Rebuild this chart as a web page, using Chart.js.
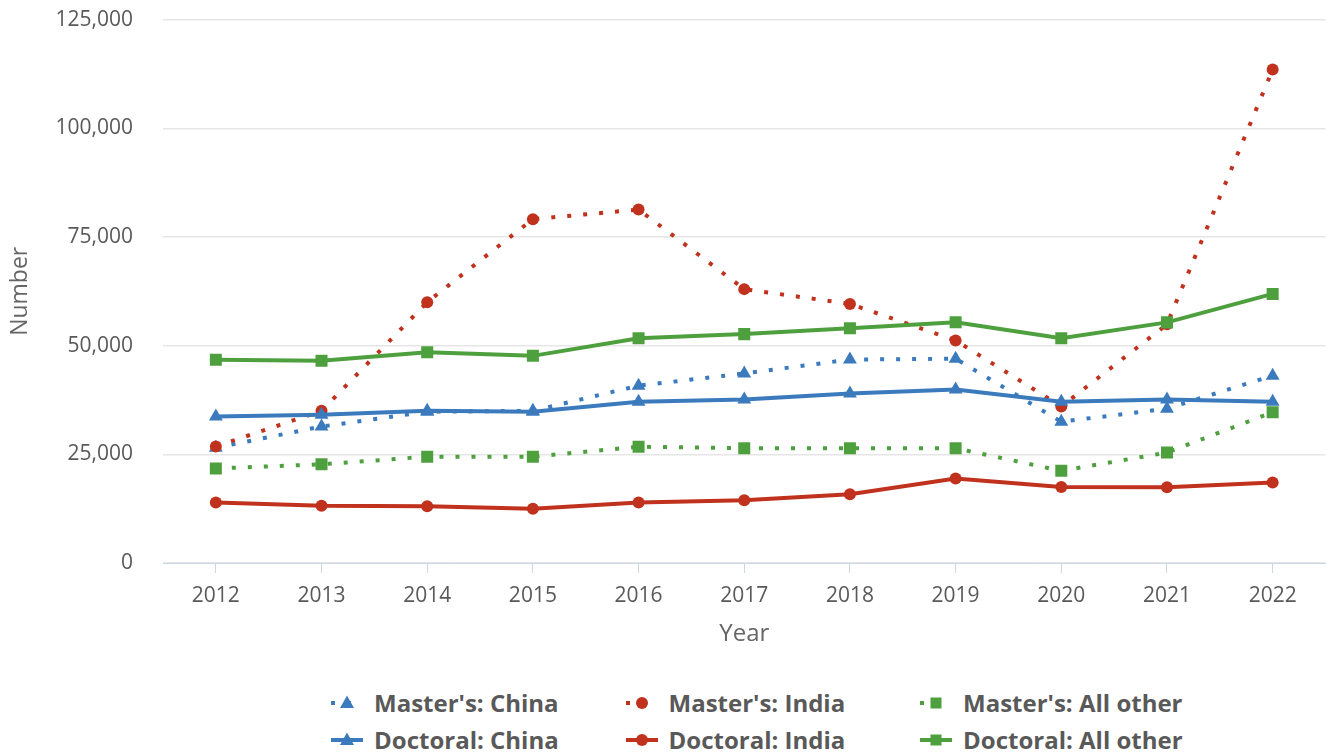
<!DOCTYPE html>
<html>
<head>
<meta charset="utf-8">
<script src="https://cdn.jsdelivr.net/npm/chart.js@4.4.1/dist/chart.umd.min.js"></script>
<style>
  html, body { margin: 0; padding: 0; background: #ffffff; }
  #wrap { position: relative; width: 1327px; height: 754px; overflow: hidden; }
  #chartBox { position: absolute; left: 0; top: -23px; width: 1334px; height: 676px; }
  #legend {
    position: absolute; left: 331px; top: 684px;
    display: grid; grid-template-columns: 294.5px 294.5px 294.5px; grid-auto-rows: 37px;
    font-family: "Open Sans", sans-serif; font-weight: bold; font-size: 24px; color: #595959;
  }
  .item { display: flex; align-items: center; white-space: nowrap; }
  .item svg { margin-right: 11px; flex: none; }
</style>
</head>
<body>
<div id="wrap">
  <div id="chartBox"><canvas id="c"></canvas></div>
  <div id="legend"></div>
</div>
<script>
const years = ["2012","2013","2014","2015","2016","2017","2018","2019","2020","2021","2022"];
const yTicks = [0, 25000, 50000, 75000, 100000, 125000];

const mastersChina    = [26500, 31400, 34800, 35000, 40800, 43600, 46800, 47000, 32500, 35500, 43100];
const mastersIndia    = [26800, 35000, 60000, 79100, 81300, 63000, 59600, 51200, 36000, 54900, 113500];
const mastersOther    = [21750, 22700, 24450, 24450, 26750, 26400, 26400, 26400, 21200, 25400, 34700];
const doctoralChina   = [33700, 34100, 35000, 34800, 37100, 37600, 39000, 39900, 37100, 37600, 37100];
const doctoralIndia   = [13900, 13150, 13070, 12500, 13900, 14450, 15800, 19450, 17500, 17400, 18500];
const doctoralOther   = [46750, 46500, 48500, 47650, 51700, 52650, 54000, 55400, 51700, 55350, 61900];

const seriesNames = ["Master's: China", "Master's: India", "Master's: All other",
                     "Doctoral: China", "Doctoral: India", "Doctoral: All other"];

const BLUE = '#3a7abd', RED = '#c0321d', GREEN = '#4ea03e';

function ds(label, data, color, style, radius, dotted, order) {
  return {
    label, data,
    borderColor: color, backgroundColor: color,
    pointBackgroundColor: color, pointBorderColor: color, pointBorderWidth: 0,
    pointStyle: style, pointRadius: radius, pointHoverRadius: radius,
    borderWidth: 4, borderDash: dotted ? [4, 12] : [], borderCapStyle: 'butt',
    tension: 0, fill: false, order
  };
}

const datasets = [
  ds(seriesNames[0], mastersChina, BLUE, 'triangle', 8, true, 6),
  ds(seriesNames[1], mastersIndia, RED, 'circle', 6, true, 5),
  ds(seriesNames[2], mastersOther, GREEN, 'rect', 8.5, true, 4),
  ds(seriesNames[3], doctoralChina, BLUE, 'triangle', 8, false, 3),
  ds(seriesNames[4], doctoralIndia, RED, 'circle', 6, false, 2),
  ds(seriesNames[5], doctoralOther, GREEN, 'rect', 8.5, false, 1)
];

new Chart(document.getElementById('c'), {
  type: 'line',
  data: { labels: years, datasets },
  options: {
    responsive: true, maintainAspectRatio: false, animation: false,
    layout: { padding: { top: 8, right: 0, left: 3, bottom: 0 } },
    plugins: { legend: { display: false }, tooltip: { enabled: false } },
    scales: {
      x: {
        offset: true,
        grid: { drawOnChartArea: false, drawTicks: true, tickLength: 10, color: '#ccd6eb', lineWidth: 1 },
        border: { display: true, color: '#ccd6eb', width: 1 },
        ticks: { color: '#595959', font: { family: 'Open Sans', size: 21 }, padding: 10, maxRotation: 0 },
        title: { display: true, text: 'Year', color: '#666666', font: { family: 'Open Sans', size: 24 }, padding: { top: 2 } }
      },
      y: {
        min: 0, max: 125000,
        afterBuildTicks: (axis) => { axis.ticks = yTicks.map(v => ({ value: v })); },
        afterFit: (scale) => { scale.width = 160; },
        grid: { drawTicks: false, color: '#e6e6e6', lineWidth: 1.5 },
        border: { display: false },
        ticks: { color: '#595959', font: { family: 'Open Sans', size: 21 }, padding: 30,
                 callback: (v) => v.toLocaleString('en-US') },
        title: { display: true, text: 'Number', color: '#666666', font: { family: 'Open Sans', size: 23 }, padding: { top: 4, bottom: 0 } }
      }
    }
  }
});

// HTML legend
const styles = [
  { color: BLUE, shape: 'tri', dotted: true }, { color: RED, shape: 'circle', dotted: true }, { color: GREEN, shape: 'rect', dotted: true },
  { color: BLUE, shape: 'tri', dotted: false }, { color: RED, shape: 'circle', dotted: false }, { color: GREEN, shape: 'rect', dotted: false }
];
const legend = document.getElementById('legend');
styles.forEach((s, i) => {
  const line = s.dotted
    ? `<line x1="0" y1="8" x2="32" y2="8" stroke="${s.color}" stroke-width="4" stroke-dasharray="4 12"/>`
    : `<line x1="0" y1="8" x2="32" y2="8" stroke="${s.color}" stroke-width="4"/>`;
  let mk;
  if (s.shape === 'tri') mk = `<polygon points="16,0.5 23,13 9,13" fill="${s.color}"/>`;
  else if (s.shape === 'circle') mk = `<circle cx="16" cy="8" r="6" fill="${s.color}"/>`;
  else mk = `<rect x="10.5" y="2.5" width="11" height="11" fill="${s.color}"/>`;
  const div = document.createElement('div');
  div.className = 'item';
  div.innerHTML = `<svg width="32" height="16" viewBox="0 0 32 16">${line}${mk}</svg><span>${seriesNames[i]}</span>`;
  legend.appendChild(div);
});
</script>
</body>
</html>
